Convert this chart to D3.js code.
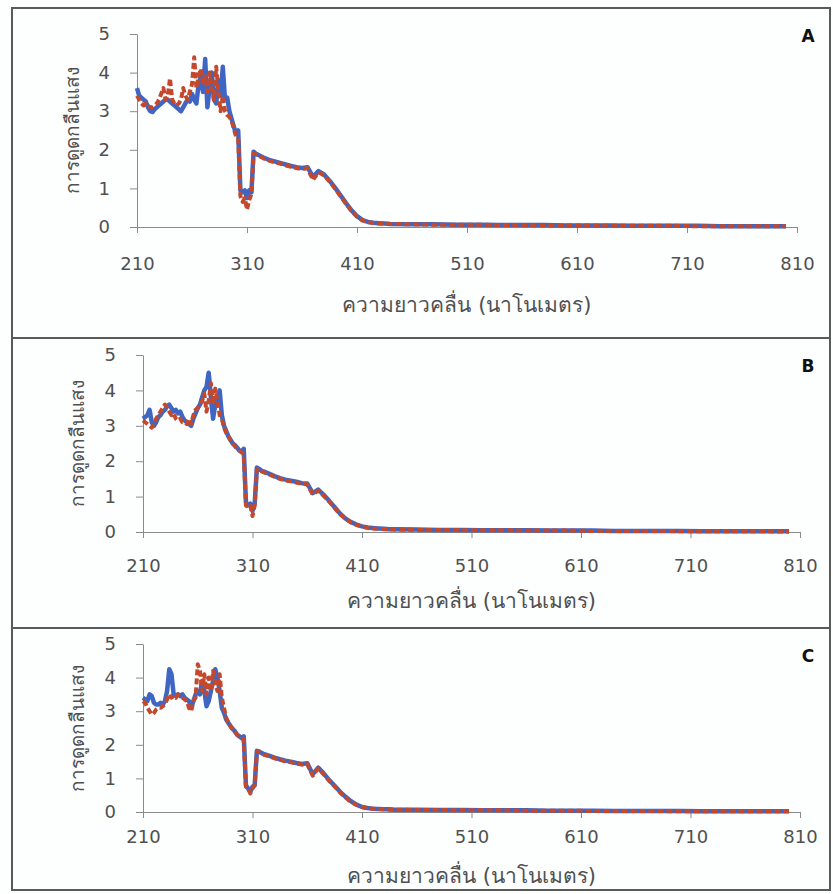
<!DOCTYPE html>
<html>
<head>
<meta charset="utf-8">
<script src="https://cdn.jsdelivr.net/npm/d3@7"></script>
<style>
body { margin: 0; background: #fdfefe; }
svg { display: block; }
.tick text { font-family: "DejaVu Sans", Verdana, sans-serif; fill: #505050; }
.axis-label { font-family: "DejaVu Sans", "Noto Sans", sans-serif; fill: #505050; }
</style>
</head>
<body>
<div id="chart-area"></div>
<script>
// wavelength (nm) grid shared by every series
var wavelengths = [
	210, 212, 214, 216, 218, 220, 222, 224,
	226, 228, 230, 232, 234, 236, 238, 240,
	242, 244, 246, 248, 250, 252, 254, 256,
	258, 260, 262, 264, 266, 268, 270, 272,
	274, 276, 278, 280, 282, 284, 286, 288,
	290, 292, 294, 296, 298, 300, 302, 304,
	306, 308, 310, 312, 314, 316, 318, 320,
	325, 330, 335, 340, 345, 350, 355, 360, 365, 370, 375, 380,
	385, 390, 395, 400, 405, 410, 415, 420, 425, 430, 435, 440,
	460, 480, 500, 520, 540, 560, 580, 600, 620,
	640, 660, 680, 700, 720, 740, 760, 780, 800
];

var blueA = [
	3.6, 3.4, 3.35, 3.3, 3.25, 3.1, 3.0, 2.98,
	3.05, 3.1, 3.15, 3.2, 3.25, 3.3, 3.3, 3.25,
	3.2, 3.15, 3.1, 3.05, 3.0, 3.1, 3.2, 3.3,
	3.25, 3.45, 3.3, 3.2, 3.7, 3.9, 3.5, 4.35,
	3.1, 3.6, 4.0, 3.3, 3.2, 3.8, 3.4, 4.15,
	3.3, 3.35, 3.0, 2.8, 2.6, 2.42, 2.5, 0.95,
	0.9, 0.95, 0.75, 0.95, 0.9, 1.95, 1.9, 1.87,
	1.8, 1.74, 1.7, 1.66, 1.62, 1.58, 1.55, 1.53, 1.55, 1.3, 1.45, 1.36,
	1.2, 1.02, 0.82, 0.62, 0.43, 0.28, 0.18, 0.13, 0.11, 0.1, 0.09, 0.08,
	0.07, 0.07, 0.06, 0.06, 0.05, 0.05, 0.05, 0.04, 0.04,
	0.04, 0.03, 0.03, 0.03, 0.03, 0.02, 0.02, 0.02, 0.02
];
var redA = [
	3.4, 3.3, 3.2, 3.15, 3.2, 3.15, 3.1, 3.1,
	3.15, 3.2, 3.3, 3.45, 3.6, 3.3, 3.4, 3.85,
	3.3, 3.2, 3.15, 3.2, 3.3, 3.6, 3.4, 3.3,
	3.5, 3.7, 4.4, 3.6, 3.9, 4.1, 3.7, 3.9,
	3.5, 4.0, 3.6, 3.3, 4.15, 3.5, 3.0, 3.4,
	3.0, 2.9, 2.85, 2.75, 2.55, 2.35, 2.3, 0.8,
	0.65, 0.75, 0.45, 0.7, 0.85, 1.9, 1.88, 1.85,
	1.78, 1.72, 1.68, 1.64, 1.6, 1.56, 1.53, 1.5, 1.52, 1.22, 1.42, 1.34,
	1.18, 1.0, 0.8, 0.6, 0.42, 0.27, 0.17, 0.13, 0.1, 0.09, 0.09, 0.08,
	0.07, 0.06, 0.06, 0.06, 0.05, 0.05, 0.04, 0.04, 0.04,
	0.03, 0.03, 0.03, 0.03, 0.02, 0.02, 0.02, 0.02, 0.02
];

var blueB = [
	3.2, 3.25, 3.3, 3.45, 3.1, 3.0, 3.1, 3.25,
	3.3, 3.4, 3.45, 3.55, 3.6, 3.5, 3.4, 3.45,
	3.35, 3.4, 3.25, 3.15, 3.1, 3.05, 3.0, 3.2,
	3.35, 3.5, 3.6, 3.8, 4.0, 4.1, 4.5, 3.8,
	3.2, 3.6, 3.8, 4.0, 3.3, 3.0, 2.85, 2.7,
	2.6, 2.5, 2.45, 2.38, 2.3, 2.27, 2.35, 0.85,
	0.75, 0.8, 0.6, 0.8, 1.82, 1.78, 1.74, 1.71,
	1.65, 1.58, 1.52, 1.48, 1.45, 1.42, 1.38, 1.37, 1.1, 1.2, 1.05, 0.88,
	0.7, 0.52, 0.38, 0.28, 0.21, 0.16, 0.13, 0.11, 0.1, 0.09, 0.08, 0.08,
	0.07, 0.06, 0.06, 0.05, 0.05, 0.05, 0.04, 0.04, 0.04,
	0.03, 0.03, 0.03, 0.03, 0.02, 0.02, 0.02, 0.02, 0.02
];
var redB = [
	3.15, 3.1, 3.05, 3.0, 2.95, 3.05, 3.2, 3.3,
	3.4, 3.5, 3.6, 3.5, 3.4, 3.3, 3.35, 3.2,
	3.15, 3.2, 3.1, 3.1, 3.05, 3.2, 3.05, 3.3,
	3.45, 3.5, 3.6, 3.7, 3.9, 3.4, 3.7, 4.2,
	3.6, 4.05, 3.7, 3.3, 3.2, 2.95, 2.8, 2.7,
	2.58, 2.5, 2.42, 2.35, 2.3, 2.25, 2.2, 0.75,
	0.7, 0.75, 0.45, 0.75, 1.78, 1.76, 1.72, 1.69,
	1.63, 1.56, 1.5, 1.46, 1.43, 1.4, 1.36, 1.35, 1.06, 1.17, 1.02, 0.86,
	0.68, 0.5, 0.37, 0.27, 0.2, 0.15, 0.12, 0.1, 0.09, 0.08, 0.08, 0.07,
	0.06, 0.06, 0.05, 0.05, 0.05, 0.04, 0.04, 0.04, 0.03,
	0.03, 0.03, 0.03, 0.02, 0.02, 0.02, 0.02, 0.02, 0.01
];

var blueC = [
	3.4, 3.35, 3.3, 3.5, 3.45, 3.25, 3.2, 3.2,
	3.25, 3.2, 3.3, 3.6, 4.25, 4.1, 3.5, 3.45,
	3.5, 3.45, 3.5, 3.4, 3.35, 3.3, 3.1, 3.3,
	3.5, 3.6, 3.5, 3.9, 3.6, 3.15, 3.3, 3.6,
	3.9, 4.25, 4.0, 3.6, 3.1, 2.95, 2.75, 2.65,
	2.55, 2.47, 2.4, 2.3, 2.25, 2.2, 2.25, 0.8,
	0.7, 0.6, 0.75, 0.8, 1.82, 1.8, 1.76, 1.73,
	1.68, 1.62, 1.57, 1.53, 1.5, 1.46, 1.43, 1.45, 1.12, 1.32, 1.15, 0.95,
	0.78, 0.6, 0.45, 0.32, 0.22, 0.15, 0.12, 0.1, 0.09, 0.08, 0.08, 0.07,
	0.07, 0.06, 0.06, 0.05, 0.05, 0.05, 0.04, 0.04, 0.04,
	0.03, 0.03, 0.03, 0.03, 0.02, 0.02, 0.02, 0.02, 0.02
];
var redC = [
	3.3, 3.25, 3.1, 3.0, 2.9, 2.95, 3.05, 3.1,
	3.1, 3.15, 3.2, 3.35, 3.5, 3.4, 3.45, 3.4,
	3.5, 3.45, 3.4, 3.35, 3.3, 3.1, 3.0, 3.3,
	3.4, 4.4, 4.2, 3.6, 4.1, 3.5, 4.0, 3.6,
	4.2, 3.8, 3.6, 4.1, 3.4, 3.1, 2.8, 2.65,
	2.55, 2.45, 2.38, 2.3, 2.25, 2.2, 2.15, 0.75,
	0.7, 0.55, 0.7, 0.8, 1.8, 1.78, 1.74, 1.71,
	1.66, 1.6, 1.55, 1.51, 1.48, 1.44, 1.41, 1.43, 1.08, 1.3, 1.12, 0.93,
	0.76, 0.58, 0.43, 0.3, 0.21, 0.15, 0.11, 0.1, 0.09, 0.08, 0.07, 0.07,
	0.06, 0.06, 0.05, 0.05, 0.05, 0.04, 0.04, 0.04, 0.03,
	0.03, 0.03, 0.03, 0.02, 0.02, 0.02, 0.02, 0.02, 0.02
];

var xTicks = [210, 310, 410, 510, 610, 710, 810];
var yTicks = [0, 1, 2, 3, 4, 5];
var xTitle = "ความยาวคลื่น (นาโนเมตร)";
var yTitle = "การดูดกลืนแสง";

var blueColor = "#3f66c2";
var redColor = "#c4492c";

var panels = [
	{ letter: "A", blue: blueA, red: redA, boxTop: 8, boxBottom: 338,
	  left: 137, right: 797, top: 34, bottom: 227, pad: 24, titleY: 305, yTitleX: 72 },
	{ letter: "B", blue: blueB, red: redB, boxTop: 338, boxBottom: 628,
	  left: 143, right: 800, top: 355, bottom: 532, pad: 21, titleY: 601, yTitleX: 77 },
	{ letter: "C", blue: blueC, red: redC, boxTop: 628, boxBottom: 890,
	  left: 143, right: 800, top: 644, bottom: 812, pad: 12, titleY: 876, yTitleX: 77 }
];

var svg = d3.select("#chart-area").append("svg")
	.attr("width", 833)
	.attr("height", 894);

panels.forEach(function(p) {

	var x = d3.scaleLinear()
		.domain([210, 810])
		.range([p.left, p.right]);

	var y = d3.scaleLinear()
		.domain([0, 5])
		.range([p.bottom, p.top]);

	var g = svg.append("g");

	// panel frame
	g.append("rect")
		.attr("x", 12)
		.attr("y", p.boxTop)
		.attr("width", 818)
		.attr("height", p.boxBottom - p.boxTop)
		.attr("fill", "none")
		.attr("stroke", "#5a5a5a")
		.attr("stroke-width", 2);

	var xAxis = d3.axisBottom(x)
		.tickValues(xTicks)
		.tickSize(6)
		.tickPadding(p.pad)
		.tickSizeOuter(0);

	var gx = g.append("g")
		.attr("class", "x-axis")
		.attr("transform", "translate(0, " + p.bottom + ")")
		.call(xAxis);

	var yAxis = d3.axisLeft(y)
		.tickValues(yTicks)
		.tickFormat(d3.format("d"))
		.tickSize(7)
		.tickPadding(20)
		.tickSizeOuter(0);

	var gy = g.append("g")
		.attr("class", "y-axis")
		.attr("transform", "translate(" + p.left + ", 0)")
		.call(yAxis);

	[gx, gy].forEach(function(a) {
		a.selectAll(".domain, line").attr("stroke", "#8a8a8a");
		a.selectAll("text").attr("font-size", "18px");
	});

	var line = d3.line()
		.x(function(d, i) { return x(wavelengths[i]); })
		.y(function(d) { return y(d); });

	g.append("path")
		.datum(p.blue)
		.attr("d", line)
		.attr("fill", "none")
		.attr("stroke", blueColor)
		.attr("stroke-width", 4.5)
		.attr("stroke-linejoin", "round");

	g.append("path")
		.datum(p.red)
		.attr("d", line)
		.attr("fill", "none")
		.attr("stroke", redColor)
		.attr("stroke-width", 4)
		.attr("stroke-dasharray", "6,3")
		.attr("stroke-linejoin", "round");

	g.append("text")
		.attr("class", "axis-label")
		.attr("x", (p.left + p.right) / 2)
		.attr("y", p.titleY)
		.attr("dy", "0.35em")
		.attr("font-size", "21px")
		.attr("text-anchor", "middle")
		.text(xTitle);

	g.append("text")
		.attr("class", "axis-label")
		.attr("x", -(p.top + p.bottom) / 2)
		.attr("y", p.yTitleX)
		.attr("dy", "0.35em")
		.attr("font-size", "19px")
		.attr("text-anchor", "middle")
		.attr("transform", "rotate(-90)")
		.text(yTitle);

	g.append("text")
		.attr("x", 808)
		.attr("y", p.boxTop + 34)
		.attr("font-family", "DejaVu Sans, sans-serif")
		.attr("font-weight", "bold")
		.attr("font-size", "17px")
		.attr("text-anchor", "middle")
		.attr("fill", "#111")
		.text(p.letter);
});
</script>
</body>
</html>
